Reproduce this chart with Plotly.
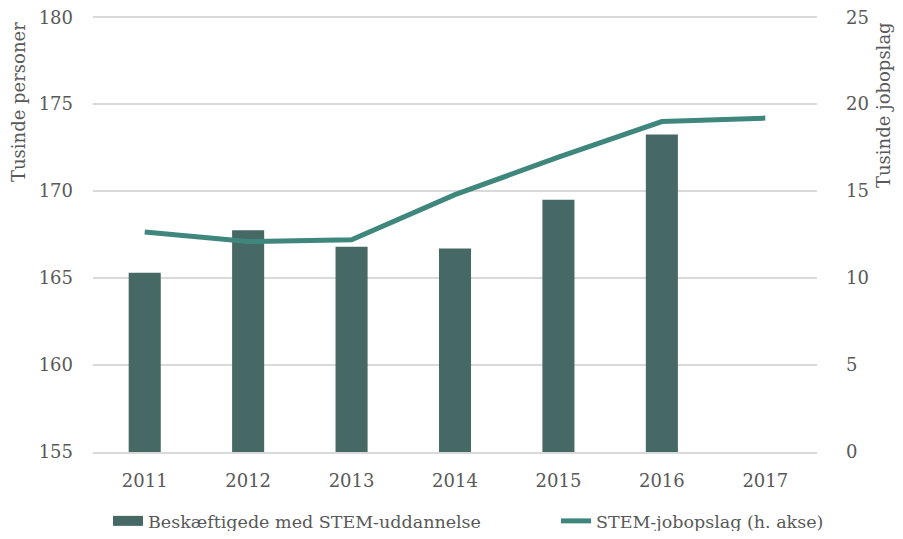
import plotly.graph_objects as go

years = ["2011", "2012", "2013", "2014", "2015", "2016", "2017"]
employed = [165.3, 167.75, 166.8, 166.7, 169.5, 173.25, None]
job_posts = [12.65, 12.1, 12.2, 14.8, 16.95, 19.0, 19.2]

FONT = "DejaVu Serif"
GREY = "#595959"
BAR_COLOR = "#466966"
LINE_COLOR = "#3f877c"

# page body has an 8px margin, so the figure is a bit smaller than the window
W, H = 887, 523
L, R, T, B = 85, 78, 4, 79
PW, PH = W - L - R, H - T - B

fig = go.Figure()
fig.add_trace(go.Bar(
    x=years, y=employed, name="Beskæftigede med STEM-uddannelse",
    marker=dict(color=BAR_COLOR, line=dict(width=0)), showlegend=False,
))
# legend entry only: wide swatch like the original
fig.add_trace(go.Scatter(
    x=[None], y=[None], name="Beskæftigede med STEM-uddannelse",
    mode="lines", line=dict(color=BAR_COLOR, width=10), legend="legend",
))
fig.add_trace(go.Scatter(
    x=years, y=job_posts, name="STEM-jobopslag (h. akse)", yaxis="y2",
    mode="lines", line=dict(color=LINE_COLOR, width=5), legend="legend2",
))

legend_style = dict(orientation="h", xref="container", xanchor="left",
                    yref="container", y=1 - 513 / H, yanchor="middle",
                    font=dict(size=17.5, color=GREY), bgcolor="rgba(0,0,0,0)")

# ranges reach a little past the top tick so plotly keeps the top gridline
fig.update_layout(
    width=W, height=H,
    margin=dict(l=L, r=R, t=T, b=B, autoexpand=False),
    plot_bgcolor="white", paper_bgcolor="white",
    font=dict(family=FONT, size=18, color=GREY),
    bargap=0.69,
    showlegend=True,
    legend=dict(x=100 / W, **legend_style),
    legend2=dict(x=548 / W, **legend_style),
    xaxis=dict(showgrid=False, showline=True, linecolor="#d9d9d9", linewidth=1.5,
               ticks="", automargin=False, ticklabelstandoff=12,
               tickfont=dict(size=18, color=GREY)),
    yaxis=dict(range=[155, 180.3], tickvals=[155, 160, 165, 170, 175, 180],
               showgrid=True, gridcolor="#d9d9d9",
               gridwidth=1.5, zeroline=False, ticks="", ticklabelstandoff=19,
               automargin=False, ticklabeloverflow="allow"),
    yaxis2=dict(range=[0, 25.3], tickvals=[0, 5, 10, 15, 20, 25], overlaying="y",
                side="right", showgrid=False,
                zeroline=False, ticks="", ticklabelstandoff=28, automargin=False,
                ticklabeloverflow="allow"),
)

# axis titles sit at the top of the axes, as in the original
fig.add_annotation(text="Tusinde personer", textangle=-90, showarrow=False,
                   xref="paper", yref="paper", x=(10 - L) / PW, y=1 - (12 - T) / PH,
                   xanchor="center", yanchor="top", font=dict(size=18, color=GREY))
fig.add_annotation(text="Tusinde jobopslag", textangle=-90, showarrow=False,
                   xref="paper", yref="paper", x=(875 - L) / PW, y=1 - (12 - T) / PH,
                   xanchor="center", yanchor="top", font=dict(size=18, color=GREY))

fig.write_html("out.html")
